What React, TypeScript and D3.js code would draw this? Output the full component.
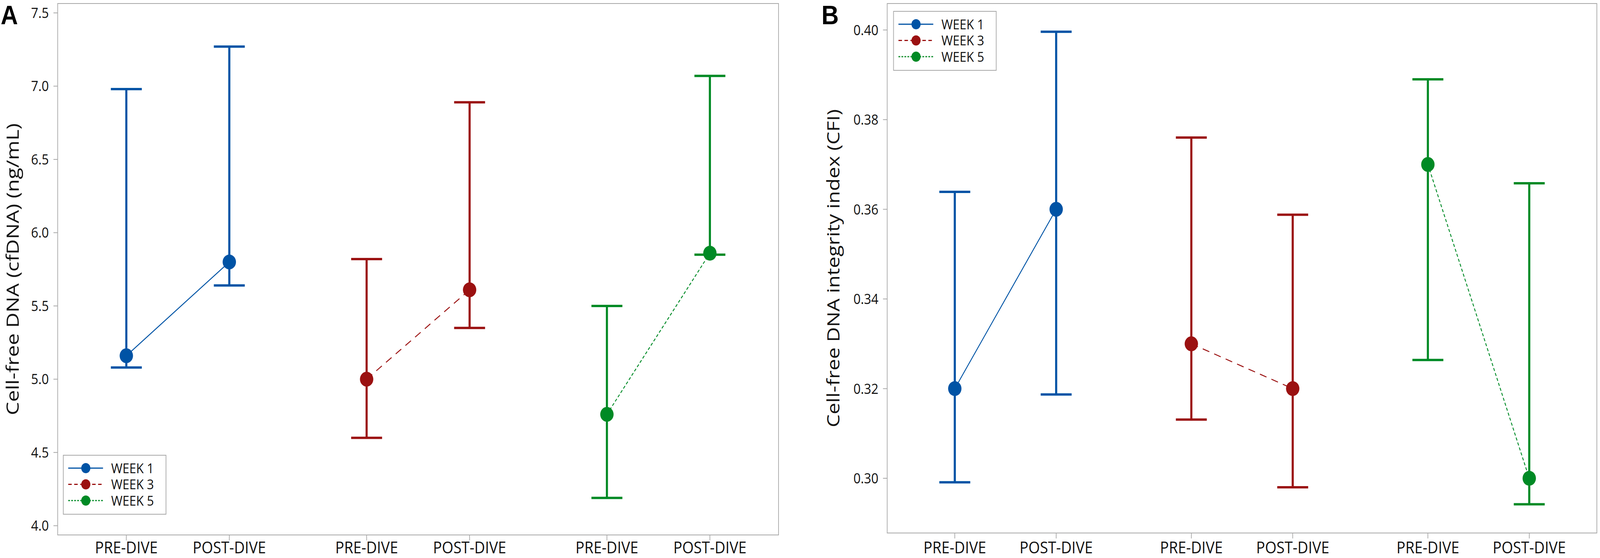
import React from "react";
import * as d3 from "d3";

// ---------- DATA ----------
const weeks = ["WEEK 1", "WEEK 3", "WEEK 5"];
const dives = ["PRE-DIVE", "POST-DIVE"];

// Panel A: Cell-free DNA (ng/mL)
const cfdnaMean = [
  [5.16, 5.8],
  [5.0, 5.61],
  [4.76, 5.86],
];
const cfdnaLower = [
  [5.08, 5.64],
  [4.6, 5.35],
  [4.19, 5.85],
];
const cfdnaUpper = [
  [6.98, 7.27],
  [5.82, 6.89],
  [5.5, 7.07],
];
const cfdnaTicks = [4.0, 4.5, 5.0, 5.5, 6.0, 6.5, 7.0, 7.5];

// Panel B: Cell-free DNA integrity index (CFI)
const cfiMean = [
  [0.32, 0.36],
  [0.33, 0.32],
  [0.37, 0.3],
];
const cfiLower = [
  [0.2991, 0.3187],
  [0.3131, 0.298],
  [0.3264, 0.2942],
];
const cfiUpper = [
  [0.3639, 0.3996],
  [0.376, 0.3588],
  [0.389, 0.3658],
];
const cfiTicks = [0.3, 0.32, 0.34, 0.36, 0.38, 0.4];

// ---------- STYLE ----------
const colors = ["#0053A5", "#9B1111", "#008A25"];
const plotDash = [null, "20,15", "8,5.5"];
const legendDash = [null, "10,7", "5,3.5"];
const FONT = "'Open Sans', 'Noto Sans', sans-serif";
const FRAME = "#A8A8A8";

type PanelProps = {
  letter: string;
  letterX: number;
  letterY: number;
  left: number;
  right: number;
  top: number;
  bottom: number;
  yDomain: [number, number];
  ticks: number[];
  tickFmt: (v: number) => string;
  mean: number[][];
  lower: number[][];
  upper: number[][];
  title: string;
  titleX: number;
  titleLen: number;
  legendX: number;
  legendY: number;
};

function Panel(p: PanelProps) {
  const x = d3.scaleLinear().domain([-2 / 3, 19 / 3]).range([p.left, p.right]);
  const y = d3.scaleLinear().domain(p.yDomain).range([p.bottom, p.top]);
  const pos = (g: number, i: number) => (g * 7) / 3 + i;
  const capHalf = 44;
  const line = d3
    .line<[number, number]>()
    .x((d) => d[0])
    .y((d) => d[1]);

  return (
    <g>
      <text
        x={p.letterX}
        y={p.letterY}
        fontFamily="'Liberation Sans', Arial, sans-serif"
        fontWeight="bold"
        fontSize={68}
        fill="#000"
      >
        {p.letter}
      </text>
      {/* frame */}
      <rect
        x={p.left}
        y={p.top}
        width={p.right - p.left}
        height={p.bottom - p.top}
        fill="none"
        stroke={FRAME}
        strokeWidth={2}
      />
      {/* y ticks */}
      {p.ticks.map((t) => (
        <g key={"yt" + t}>
          <line x1={p.left - 12} x2={p.left} y1={y(t)} y2={y(t)} stroke={FRAME} strokeWidth={2} />
          <text
            x={p.left - 25}
            y={y(t)}
            dy="0.36em"
            textAnchor="end"
            fontFamily={FONT}
            fontSize={36}
            fill="#111"
          >
            {p.tickFmt(t)}
          </text>
        </g>
      ))}
      {/* x ticks */}
      {weeks.map((w, g) =>
        dives.map((dv, i) => (
          <g key={"xt" + g + i}>
            <line
              x1={x(pos(g, i))}
              x2={x(pos(g, i))}
              y1={p.bottom}
              y2={p.bottom + 14}
              stroke={FRAME}
              strokeWidth={2}
            />
            <text
              x={x(pos(g, i))}
              y={1416}
              textAnchor="middle"
              fontFamily={FONT}
              fontSize={42}
              fill="#111"
            >
              {dv}
            </text>
          </g>
        ))
      )}
      {/* y title */}
      <text
        transform={`translate(${p.titleX},${(p.top + p.bottom) / 2}) rotate(-90)`}
        textAnchor="middle"
        fontFamily={FONT}
        fontSize={48}
        textLength={p.titleLen}
        lengthAdjust="spacingAndGlyphs"
        fill="#111"
      >
        {p.title}
      </text>
      {/* error bars */}
      {weeks.map((w, g) =>
        dives.map((dv, i) => {
          const cx = x(pos(g, i));
          return (
            <g key={"eb" + g + i} stroke={colors[g]} strokeWidth={6}>
              <line x1={cx} x2={cx} y1={y(p.upper[g][i])} y2={y(p.lower[g][i])} />
              <line x1={cx - capHalf} x2={cx + capHalf} y1={y(p.upper[g][i])} y2={y(p.upper[g][i])} />
              <line x1={cx - capHalf} x2={cx + capHalf} y1={y(p.lower[g][i])} y2={y(p.lower[g][i])} />
            </g>
          );
        })
      )}
      {/* connecting lines */}
      {weeks.map((w, g) => (
        <path
          key={"ln" + g}
          d={line(dives.map((dv, i) => [x(pos(g, i)), y(p.mean[g][i])]) as [number, number][]) || ""}
          fill="none"
          stroke={colors[g]}
          strokeWidth={2.5}
          strokeDasharray={plotDash[g] || undefined}
        />
      ))}
      {/* mean markers */}
      {weeks.map((w, g) =>
        dives.map((dv, i) => (
          <circle
            key={"mk" + g + i}
            cx={x(pos(g, i))}
            cy={y(p.mean[g][i])}
            r={19}
            fill={colors[g]}
          />
        ))
      )}
      {/* legend */}
      <g>
        <rect
          x={p.legendX}
          y={p.legendY}
          width={292}
          height={151}
          fill="#fff"
          stroke={FRAME}
          strokeWidth={2}
        />
        {weeks.map((w, g) => {
          const cy = p.legendY + 33 + g * 41.5;
          return (
            <g key={"lg" + g}>
              <line
                x1={p.legendX + 14}
                x2={p.legendX + 113}
                y1={cy}
                y2={cy}
                stroke={colors[g]}
                strokeWidth={3}
                strokeDasharray={legendDash[g] || undefined}
              />
              <circle cx={p.legendX + 64} cy={cy} r={13} fill={colors[g]} />
              <text
                x={p.legendX + 136}
                y={cy}
                dy="0.36em"
                fontFamily={FONT}
                fontSize={35}
                fill="#111"
              >
                {w}
              </text>
            </g>
          );
        })}
      </g>
    </g>
  );
}

export default function App() {
  return (
    <svg
      viewBox="0 0 4550 1428"
      preserveAspectRatio="none"
      style={{
        position: "fixed",
        left: 0,
        top: 0,
        width: "100vw",
        height: "100vh",
        display: "block",
        background: "#fff",
      }}
    >
      <rect x={0} y={0} width={4550} height={1428} fill="#fff" />
      <Panel
        letter="A"
        letterX={2}
        letterY={62}
        left={164}
        right={2214}
        top={9}
        bottom={1369}
        yDomain={[3.937, 7.564]}
        ticks={cfdnaTicks}
        tickFmt={d3.format(".1f")}
        mean={cfdnaMean}
        lower={cfdnaLower}
        upper={cfdnaUpper}
        title="Cell-free DNA (cfDNA) (ng/mL)"
        titleX={53}
        titleLen={747}
        legendX={180}
        legendY={1165}
      />
      <Panel
        letter="B"
        letterX={2336}
        letterY={62}
        left={2523}
        right={4541}
        top={9}
        bottom={1364}
        yDomain={[0.2878, 0.4059]}
        ticks={cfiTicks}
        tickFmt={d3.format(".2f")}
        mean={cfiMean}
        lower={cfiLower}
        upper={cfiUpper}
        title="Cell-free DNA integrity index (CFI)"
        titleX={2387}
        titleLen={814}
        legendX={2541}
        legendY={29}
      />
    </svg>
  );
}
